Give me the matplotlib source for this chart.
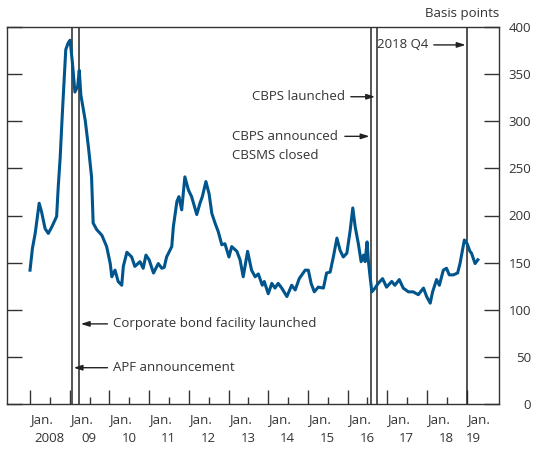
import matplotlib
matplotlib.use("Agg")
import matplotlib.pyplot as plt
from matplotlib.ticker import FixedLocator

plt.rcParams['font.family'] = ['Open Sans', 'DejaVu Sans']

# corporate bond spread (decimal year, basis points)
years = [2008.00, 2008.06, 2008.13, 2008.23, 2008.29, 2008.38, 2008.46, 2008.55, 2008.67, 2008.71,
         2008.76, 2008.81, 2008.86, 2008.90, 2008.96, 2009.01, 2009.07, 2009.13, 2009.20, 2009.24,
         2009.28, 2009.39, 2009.47, 2009.55, 2009.59, 2009.68, 2009.81, 2009.93, 2010.02, 2010.06,
         2010.14, 2010.22, 2010.31, 2010.35, 2010.44, 2010.56, 2010.64, 2010.77, 2010.85, 2010.92,
         2011.00, 2011.11, 2011.23, 2011.32, 2011.38, 2011.44, 2011.57, 2011.61, 2011.70, 2011.75,
         2011.82, 2011.90, 2011.99, 2012.07, 2012.20, 2012.28, 2012.34, 2012.43, 2012.51, 2012.58,
         2012.66, 2012.74, 2012.83, 2012.91, 2013.01, 2013.08, 2013.21, 2013.29, 2013.37, 2013.48,
         2013.58, 2013.67, 2013.75, 2013.85, 2013.90, 2014.00, 2014.09, 2014.17, 2014.25, 2014.34,
         2014.47, 2014.59, 2014.68, 2014.78, 2014.93, 2015.01, 2015.08, 2015.16, 2015.26, 2015.39,
         2015.47, 2015.56, 2015.64, 2015.73, 2015.81, 2015.89, 2015.98, 2016.06, 2016.13, 2016.19,
         2016.27, 2016.34, 2016.40, 2016.44, 2016.49, 2016.52, 2016.56, 2016.61, 2016.69, 2016.77,
         2016.88, 2016.98, 2017.11, 2017.19, 2017.30, 2017.40, 2017.53, 2017.65, 2017.78, 2017.91,
         2017.99, 2018.08, 2018.14, 2018.24, 2018.31, 2018.41, 2018.49, 2018.56, 2018.66, 2018.77,
         2018.83, 2018.94, 2019.01, 2019.08, 2019.12, 2019.21, 2019.28]
spread = [142, 165, 181, 213, 204, 186, 181, 188, 199, 230,
          262, 305, 344, 376, 383, 386, 361, 331, 337, 354,
          328, 301, 273, 241, 192, 185, 179, 167, 149, 135,
          142, 130, 126, 146, 161, 156, 146, 151, 144, 158,
          153, 139, 149, 144, 145, 156, 167, 188, 215, 220,
          206, 241, 227, 220, 201, 213, 220, 236, 223, 202,
          192, 183, 169, 170, 156, 167, 162, 153, 135, 162,
          142, 135, 138, 126, 130, 117, 128, 123, 128, 123,
          114, 126, 121, 133, 142, 142, 128, 119, 124, 123,
          139, 140, 156, 176, 163, 156, 160, 183, 208, 188,
          170, 151, 158, 151, 172, 153, 137, 119, 123, 128,
          133, 124, 130, 126, 132, 123, 119, 119, 116, 123,
          114, 107, 119, 132, 126, 142, 144, 137, 137, 139,
          149, 174, 170, 162, 160, 149, 153]

year_labels = ['2008', '09', '10', '11', '12', '13', '14', '15', '16', '17', '18', '19']
y_ticks = [0, 50, 100, 150, 200, 250, 300, 350, 400]

# event dates (decimal year)
apf = 2009.05
cbf = 2009.23
cbps_announced = 2016.59
cbps_launched = 2016.73
q4_2018 = 2019.0

ink = '#333333'
blue = '#00558c'

fig = plt.figure(figsize=(5.33, 4.5), dpi=100)
ax = fig.add_axes([7 / 533, 46 / 450, 492.3 / 533, 377 / 450])

ax.plot(years, spread, color=blue, lw=2.2, solid_joinstyle='round', zorder=3)

for d in [apf, cbf, cbps_announced, cbps_launched]:
    ax.axvline(d, color='#555555', lw=1.4, zorder=2)
ax.axvline(q4_2018, color='#222222', lw=1.1, zorder=2)

ax.set_xlim(2007.42, 2019.82)
ax.set_ylim(0, 400)

for s in ax.spines.values():
    s.set_color(ink)
    s.set_linewidth(1.0)

# x axis: long ticks at January, short ticks mid-year, labels drawn as text
first = int(year_labels[0])
jan = [first + i for i in range(len(year_labels))]
ax.xaxis.set_major_locator(FixedLocator(jan))
ax.xaxis.set_minor_locator(FixedLocator([j + 0.5 for j in jan[:-1]]))
ax.tick_params(axis='x', which='major', direction='in', length=10, width=1.0, color=ink, labelbottom=False)
ax.tick_params(axis='x', which='minor', direction='in', length=5, width=1.0, color=ink)

for i, (j, lab) in enumerate(zip(jan, year_labels)):
    yr_x = j + 0.16 if i == len(jan) - 1 else j + 0.49
    ax.annotate('Jan.', xy=(j + 0.29, 0), xycoords=ax.get_xaxis_transform(),
                xytext=(0, -11), textcoords='offset points', ha='center', va='center',
                fontsize=9.5, color=ink)
    ax.annotate(lab, xy=(yr_x, 0), xycoords=ax.get_xaxis_transform(),
                xytext=(0, -24.5), textcoords='offset points', ha='center', va='center',
                fontsize=9.5, color=ink)

# y axis: ticks both sides, labels on the right
ax.set_yticks(y_ticks)
ax.tick_params(axis='y', which='major', direction='in', length=11, width=1.0, color=ink,
               left=True, right=True, labelleft=False, labelright=True,
               pad=23, labelsize=9.5, labelcolor=ink)
for lbl in ax.get_yticklabels():
    lbl.set_horizontalalignment('right')

ax.text(1.0, 1.0 + 13 / 377, 'Basis points', transform=ax.transAxes,
        ha='right', va='center', fontsize=9.5, color=ink)

arrow = dict(arrowstyle='-|>,head_length=0.5,head_width=0.16', color='#222222',
             lw=1.0, shrinkA=2, shrinkB=0, mutation_scale=10)

ax.annotate('2018 Q4', xy=(q4_2018 - 0.03, 381), xytext=(2018.03, 381),
            ha='right', va='center', fontsize=9.5, color=ink, arrowprops=arrow)
ax.annotate('CBPS launched', xy=(cbps_launched - 0.04, 326), xytext=(2015.94, 326),
            ha='right', va='center', fontsize=9.5, color=ink, arrowprops=arrow)
ax.annotate('', xy=(cbps_announced - 0.04, 284), xytext=(2015.86, 284), arrowprops=arrow)
ax.text(2013.09, 284, 'CBPS announced', ha='left', va='center', fontsize=9.5, color=ink)
ax.text(2013.09, 264, 'CBSMS closed', ha='left', va='center', fontsize=9.5, color=ink)
ax.annotate('Corporate bond facility launched', xy=(cbf + 0.05, 85), xytext=(2010.09, 85),
            ha='left', va='center', fontsize=9.5, color=ink, arrowprops=arrow)
ax.annotate('APF announcement', xy=(apf + 0.05, 38.5), xytext=(2010.09, 38.5),
            ha='left', va='center', fontsize=9.5, color=ink, arrowprops=arrow)

fig.savefig('out.png', dpi=100)
